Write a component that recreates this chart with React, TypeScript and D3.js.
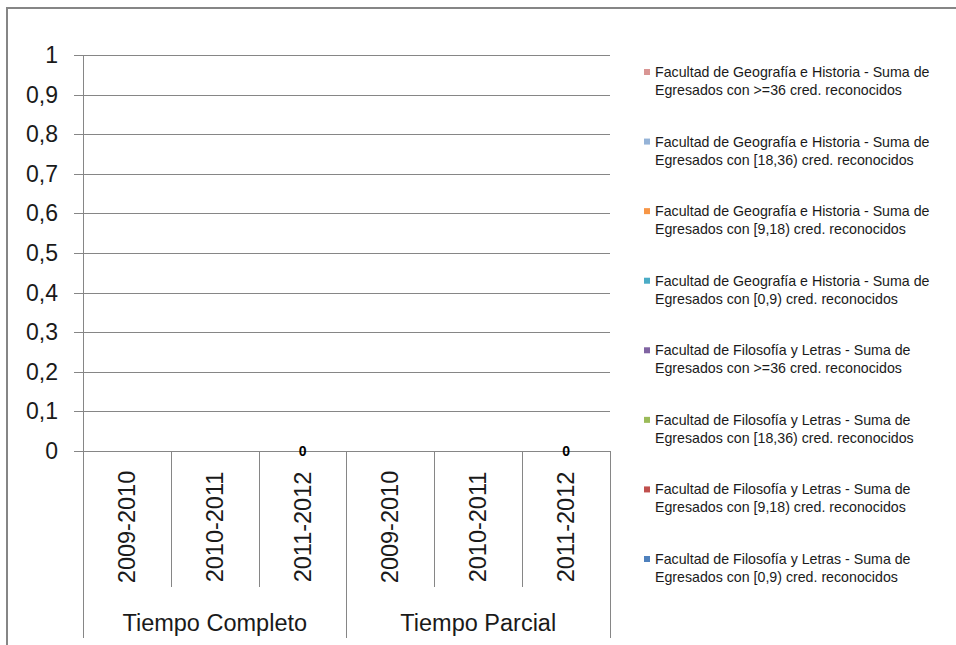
import React, { useEffect, useRef } from 'react'
import * as d3 from 'd3'

// categorias del eje x
const groups = ['Tiempo Completo', 'Tiempo Parcial']
const years = ['2009-2010', '2010-2011', '2011-2012']

// series (todas vacias o en cero)
const seriesNames = [
  ['Facultad de Geografía e Historia - Suma de', 'Egresados con >=36 cred. reconocidos'],
  ['Facultad de Geografía e Historia - Suma de', 'Egresados con [18,36) cred. reconocidos'],
  ['Facultad de Geografía e Historia - Suma de', 'Egresados con [9,18) cred. reconocidos'],
  ['Facultad de Geografía e Historia - Suma de', 'Egresados con [0,9) cred. reconocidos'],
  ['Facultad de Filosofía y Letras - Suma de', 'Egresados con >=36 cred. reconocidos'],
  ['Facultad de Filosofía y Letras - Suma de', 'Egresados con [18,36) cred. reconocidos'],
  ['Facultad de Filosofía y Letras - Suma de', 'Egresados con [9,18) cred. reconocidos'],
  ['Facultad de Filosofía y Letras - Suma de', 'Egresados con [0,9) cred. reconocidos']
]
const seriesColors = ['#D99694', '#95B3D7', '#F79646', '#4BACC6', '#8064A2', '#9BBB59', '#C0504D', '#4F81BD']
// valores por categoria: TC 09-10, TC 10-11, TC 11-12, TP 09-10, TP 10-11, TP 11-12
const seriesValues = [
  [null, null, 0, null, null, 0],
  [null, null, 0, null, null, 0],
  [null, null, 0, null, null, 0],
  [null, null, 0, null, null, 0],
  [null, null, 0, null, null, 0],
  [null, null, 0, null, null, 0],
  [null, null, 0, null, null, 0],
  [null, null, 0, null, null, 0]
]
const yTicks = [0, 0.1, 0.2, 0.3, 0.4, 0.5, 0.6, 0.7, 0.8, 0.9, 1]

const FONT = '"Liberation Sans", Arial, sans-serif'
const GRID = '#868686'
const TEXT = '#1a1a1a'

const App = () => {
  const ref = useRef<SVGSVGElement>(null)

  useEffect(() => {
    const svg = d3.select(ref.current)
    svg.selectAll('*').remove()

    const categories: string[] = []
    groups.forEach((g) => years.forEach((y) => categories.push(g + '|' + y)))

    const x = d3.scaleBand().domain(categories).range([83, 610]).padding(0)
    const y = d3.scaleLinear().domain([0, 1]).range([451, 55])
    const fmt = d3.formatLocale({ decimal: ',', thousands: '.', grouping: [3], currency: ['', ''] }).format('.1~f')

    // marco exterior
    svg.append('rect')
      .attr('x', 7).attr('y', 8).attr('width', 1000).attr('height', 700)
      .attr('fill', 'none').attr('stroke', GRID).attr('stroke-width', 2)

    // lineas de cuadricula y marcas
    yTicks.forEach((t) => {
      svg.append('line')
        .attr('x1', 74).attr('x2', 610)
        .attr('y1', Math.round(y(t)) + 0.5).attr('y2', Math.round(y(t)) + 0.5)
        .attr('stroke', GRID)
      svg.append('text')
        .text(fmt(t))
        .attr('x', 58).attr('y', y(t) + 8)
        .attr('text-anchor', 'end')
        .style('font-family', FONT).style('font-size', '23px').attr('fill', TEXT)
    })

    // eje y
    svg.append('line')
      .attr('x1', 83.5).attr('x2', 83.5).attr('y1', y(1)).attr('y2', 638)
      .attr('stroke', GRID)

    // divisiones de categorias
    categories.forEach((c, i) => {
      const x1 = Math.round(x(c)! + x.bandwidth()) + 0.5
      const isGroupEnd = (i + 1) % years.length === 0
      svg.append('line')
        .attr('x1', x1).attr('x2', x1).attr('y1', y(0)).attr('y2', isGroupEnd ? 638 : 587)
        .attr('stroke', GRID)
      const cx = x(c)! + x.bandwidth() / 2
      svg.append('text')
        .text(c.split('|')[1])
        .attr('transform', `translate(${cx + 8},527) rotate(-90)`)
        .attr('text-anchor', 'middle')
        .style('font-family', FONT).style('font-size', '23.5px').attr('fill', TEXT)
    })

    groups.forEach((g) => {
      const first = x(g + '|' + years[0])!
      const last = x(g + '|' + years[years.length - 1])! + x.bandwidth()
      svg.append('text')
        .text(g)
        .attr('x', (first + last) / 2).attr('y', 631)
        .attr('text-anchor', 'middle')
        .style('font-family', FONT).style('font-size', '23.5px').attr('fill', TEXT)
    })

    // barras apiladas (todas en cero)
    const stackData = categories.map((c, ci) => {
      const row: any = { cat: c }
      seriesValues.forEach((vals, si) => { row['s' + si] = vals[ci] ?? 0 })
      return row
    })
    const stack = d3.stack().keys(seriesValues.map((_, si) => 's' + si))(stackData)
    stack.forEach((layer, si) => {
      svg.selectAll('.bar-' + si)
        .data(layer)
        .enter()
        .append('rect')
        .attr('class', 'bar-' + si)
        .attr('x', (d: any) => x(d.data.cat)! + x.bandwidth() * 0.25)
        .attr('width', x.bandwidth() * 0.5)
        .attr('y', (d) => y(d[1]))
        .attr('height', (d) => y(d[0]) - y(d[1]))
        .attr('fill', seriesColors[si])
    })

    // etiquetas de datos
    categories.forEach((c, ci) => {
      const vals = seriesValues.map((s) => s[ci]).filter((v) => v !== null) as number[]
      if (vals.length === 0) return
      const total = d3.sum(vals)
      svg.append('text')
        .text(String(total))
        .attr('x', x(c)! + x.bandwidth() / 2)
        .attr('y', y(total) + 5)
        .attr('text-anchor', 'middle')
        .style('font-family', FONT).style('font-size', '14px').style('font-weight', 'bold')
        .attr('fill', '#000')
    })

    // leyenda
    const legendY = d3.scaleLinear().domain([0, seriesNames.length - 1]).range([77, 564])
    seriesNames.forEach((lines, i) => {
      const by = legendY(i)
      svg.append('rect')
        .attr('x', 644).attr('y', by - 8).attr('width', 6).attr('height', 6)
        .attr('fill', seriesColors[i])
      lines.forEach((ln, li) => {
        svg.append('text')
          .text(ln)
          .attr('x', 655).attr('y', by + li * 18)
          .style('font-family', FONT).style('font-size', '14.2px').attr('fill', TEXT)
      })
    })
  }, [])

  return (
    <svg
      ref={ref}
      width={956}
      height={645}
      style={{ position: 'absolute', left: 0, top: 0, background: '#fff' }}
    />
  )
}

export default App
